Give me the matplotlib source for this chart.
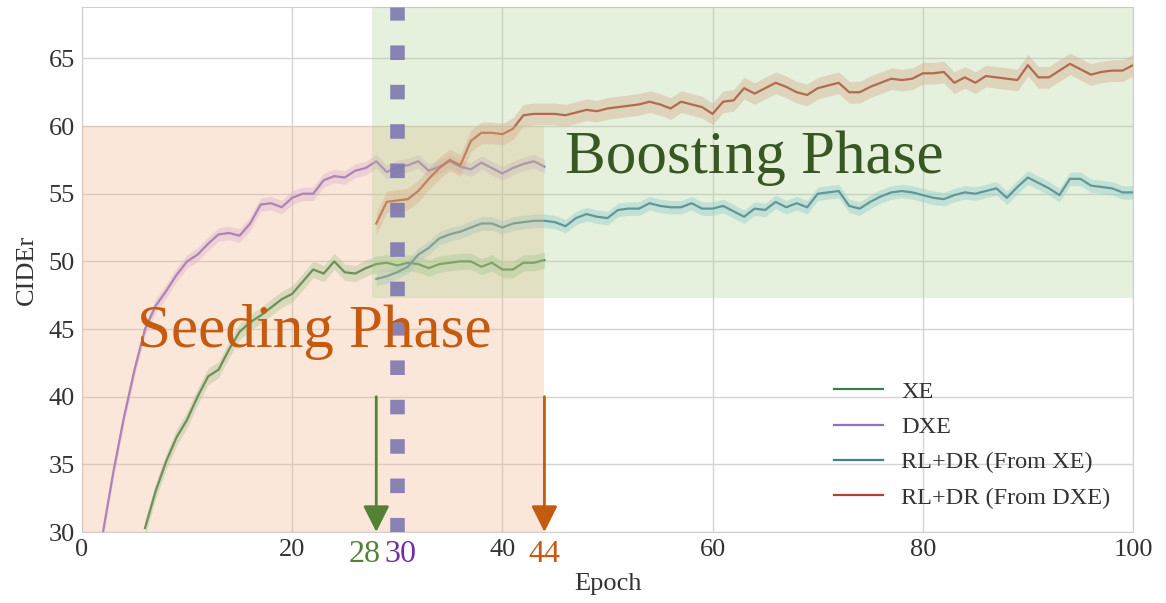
#!/usr/bin/env python3
"""
CIDEr vs. epoch: seeding phase (XE / DXE) and boosting phase (RL+DR)
"""
import numpy as np
import matplotlib
matplotlib.use("Agg")
from matplotlib import pyplot as plt
from matplotlib.patches import Rectangle

# epochs and CIDEr values
xe_epochs = list(range(6, 45))
xe_cider = [30.3, 33.0, 35.2, 37.0, 38.3, 40.0, 41.5, 42.0, 43.5, 44.8,
            45.5, 46.0, 46.6, 47.2, 47.6, 48.5, 49.4, 49.1, 50.0, 49.2,
            49.1, 49.5, 49.8, 49.9, 49.7, 49.9, 49.8, 49.5, 49.8, 49.9,
            50.0, 50.0, 49.6, 49.9, 49.4, 49.4, 49.9, 49.9, 50.1]

dxe_epochs = list(range(2, 45))
dxe_cider = [30.0, 34.5, 38.5, 42.0, 45.0, 46.7, 47.8, 49.0, 50.0, 50.5,
             51.3, 52.0, 52.1, 51.9, 52.8, 54.2, 54.3, 54.0, 54.7, 55.0,
             55.0, 56.0, 56.3, 56.2, 56.7, 56.9, 57.4, 56.6, 57.0, 57.1,
             57.4, 56.7, 57.0, 57.4, 57.0, 56.8, 57.3, 56.9, 56.5, 56.9,
             57.2, 57.4, 57.0]

rl_epochs = list(range(28, 101))
rl_xe_cider = [48.7, 48.9, 49.2, 49.6, 50.5, 51.0, 51.7, 52.0, 52.2, 52.5,
               52.8, 52.8, 52.5, 52.8, 52.9, 53.0, 53.0, 52.9, 52.6, 53.2,
               53.5, 53.3, 53.2, 53.8, 53.9, 53.9, 54.3, 54.1, 54.0, 54.0,
               54.3, 53.9, 53.9, 54.1, 53.7, 53.3, 53.9, 53.8, 54.4, 54.0,
               54.3, 54.0, 55.0, 55.1, 55.2, 54.1, 53.9, 54.4, 54.8, 55.1,
               55.2, 55.1, 54.9, 54.7, 54.6, 54.9, 55.1, 55.0, 55.2, 55.4,
               54.7, 55.5, 56.2, 55.8, 55.4, 54.9, 56.1, 56.1, 55.6, 55.5,
               55.4, 55.1, 55.1]
rl_dxe_cider = [52.8, 54.4, 54.5, 54.6, 55.2, 56.1, 56.9, 57.5, 57.1, 58.9,
                59.5, 59.5, 59.4, 59.8, 60.8, 60.9, 60.9, 60.9, 60.8, 61.0,
                61.2, 61.1, 61.3, 61.4, 61.5, 61.6, 61.8, 61.6, 61.3, 61.8,
                61.6, 61.4, 60.9, 61.8, 61.9, 62.8, 62.4, 62.8, 63.2, 62.9,
                62.5, 62.3, 62.8, 63.0, 63.2, 62.5, 62.5, 62.9, 63.2, 63.5,
                63.4, 63.5, 63.9, 63.9, 64.0, 63.2, 63.6, 63.2, 63.7, 63.6,
                63.5, 63.4, 64.5, 63.6, 63.6, 64.1, 64.6, 64.2, 63.8, 64.0,
                64.1, 64.1, 64.5]

labels = ["XE", "DXE", "RL+DR (From XE)", "RL+DR (From DXE)"]
spread = [0.6, 0.5, 0.5, 0.8]   # half width of the shaded band

# marked epochs
seed_end_xe, switch_epoch, seed_end_dxe = 28, 30, 44

plt.rcParams['font.family'] = ['Liberation Serif', 'DejaVu Serif']

fig = plt.figure(figsize=(11.66, 6.03), dpi=100)
ax = fig.add_axes([0.0703, 0.1177, 0.9014, 0.8707])

series = [
    (xe_epochs, xe_cider, "#35804d", "#8fcf9c"),
    (dxe_epochs, dxe_cider, "#8c72c8", "#d2b2ee"),
    (rl_epochs, rl_xe_cider, "#467d9c", "#8fd0ec"),
    (rl_epochs, rl_dxe_cider, "#b43f36", "#eba095"),
]
for (ep, val, col, band), lab, sd in zip(series, labels, spread):
    ep = np.array(ep)
    val = np.array(val)
    ax.fill_between(ep, val - sd, val + sd, color=band, alpha=0.45, lw=0,
                    zorder=2)
    ax.plot(ep, val, color=col, lw=1.6, label=lab, zorder=3)

ax.set_xlim(0, 100)
ax.set_ylim(30, 68.8)
ax.set_xticks(np.arange(0, 101, 20))
ax.set_yticks(np.arange(30, 66, 5))
ax.tick_params(axis='both', labelsize=19, colors='#333333', length=0, pad=5)
ax.grid(True, color='#d4d4d4', lw=1)
ax.set_axisbelow(True)
for sp in ax.spines.values():
    sp.set_color('#d0d0d0')
ax.set_xlabel("Epoch", fontsize=19, color='#333333', labelpad=9)
ax.set_ylabel("CIDEr", fontsize=19, color='#333333', labelpad=8)

# phase regions
ax.add_patch(Rectangle((0, 30), seed_end_dxe, 30, facecolor='#f4b183',
                       alpha=0.3, lw=0, zorder=4))
ax.add_patch(Rectangle((27.6, 47.3), 100 - 27.6, 68.8 - 47.3,
                       facecolor='#a9d18e', alpha=0.3, lw=0, zorder=4))

# switch line
ax.axvline(switch_epoch, color='#7d78b0', lw=10.5, alpha=0.9,
           linestyle=(0, (1.0, 1.7)), zorder=5)

ax.text(46, 57.6, "Boosting Phase", fontsize=44, color='#385723',
        va='center', ha='left', zorder=6)
ax.text(5.2, 44.8, "Seeding Phase", fontsize=44, color='#c55a11',
        va='center', ha='left', zorder=6)

# arrows and marked epochs
for ep, col in [(seed_end_xe, '#548235'), (seed_end_dxe, '#c55a11')]:
    ax.annotate("", xy=(ep, 30), xytext=(ep, 40),
                arrowprops=dict(arrowstyle='-|>', color=col, lw=2,
                                mutation_scale=40, shrinkA=0, shrinkB=0),
                zorder=6)
for ep, col, pos, ha in [(seed_end_xe, '#548235', 28.45, 'right'),
                         (switch_epoch, '#7030a0', 28.75, 'left'),
                         (seed_end_dxe, '#c55a11', 44, 'center')]:
    ax.text(pos, -0.043, str(ep), transform=ax.get_xaxis_transform(),
            fontsize=23, color=col, ha=ha, va='center')

leg = ax.legend(loc='upper left', bbox_to_anchor=(0.695, 0.33),
                frameon=False, fontsize=17.5, handlelength=2.0,
                handletextpad=0.75, labelspacing=0.55)
for t in leg.get_texts():
    t.set_color('#333333')
leg.set_zorder(7)

fig.savefig("out.png", dpi=100)
